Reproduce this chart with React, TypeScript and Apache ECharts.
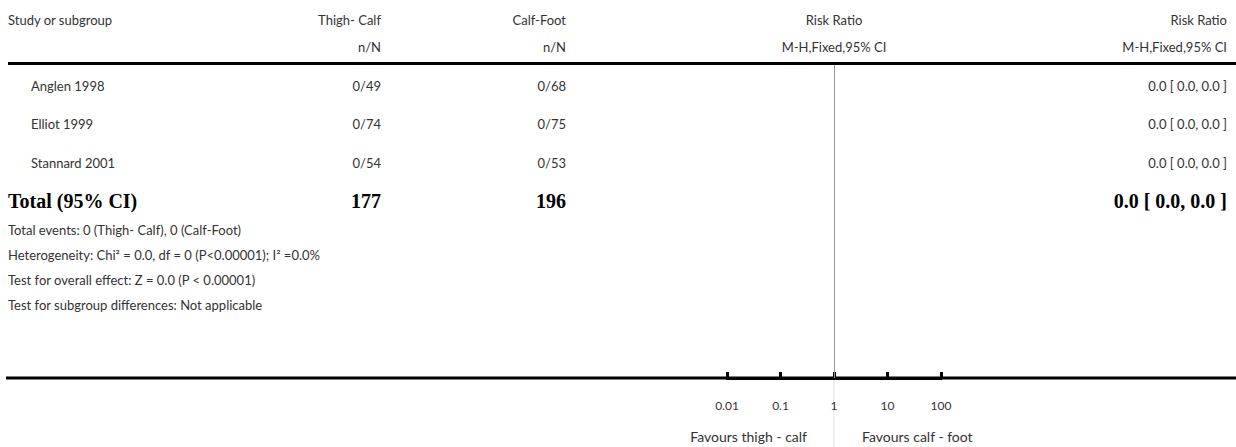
import React, { useEffect, useRef } from "react";
import * as echarts from "echarts";

const studies = ["Anglen 1998", "Elliot 1999", "Stannard 2001"];
const thighCalf = ["0/49", "0/74", "0/54"];
const calfFoot = ["0/68", "0/75", "0/53"];
const riskRatios = ["0.0 [ 0.0, 0.0 ]", "0.0 [ 0.0, 0.0 ]", "0.0 [ 0.0, 0.0 ]"];
const totalThigh = "177";
const totalCalf = "196";
const totalRR = "0.0 [ 0.0, 0.0 ]";
const footnotes = [
  "Total events: 0 (Thigh- Calf), 0 (Calf-Foot)",
  "Heterogeneity: Chi\u00B2 = 0.0, df = 0 (P<0.00001); I\u00B2 =0.0%",
  "Test for overall effect: Z = 0.0 (P < 0.00001)",
  "Test for subgroup differences: Not applicable",
];
const tickValues = [0.01, 0.1, 1, 10, 100];
const tickLabels = ["0.01", "0.1", "1", "10", "100"];
const favourLeft = "Favours thigh - calf";
const favourRight = "Favours calf - foot";

const SANS = "Lato, 'Open Sans', sans-serif";
const SERIF = "'Liberation Serif', 'DejaVu Serif', serif";
const TXT = "#333";

export default function App() {
  const ref = useRef<HTMLDivElement>(null);
  useEffect(() => {
    document.body.style.margin = "0";
    if (!ref.current) return;
    const chart = echarts.init(ref.current, null, { renderer: "svg" });

    const t = (text: string, x: number, y: number, align: string, opts: any = {}) => ({
      type: "text",
      x,
      y,
      silent: true,
      style: {
        text,
        align,
        verticalAlign: "middle",
        fill: opts.fill || TXT,
        font: `${opts.weight || "normal"} ${opts.size || 13}px ${opts.family || SANS}`,
      },
    });

    const rowY = [86, 124, 163];
    const texts: any[] = [
      t("Study or subgroup", 8, 20, "left"),
      t("Thigh- Calf", 381, 20, "right"),
      t("n/N", 381, 47, "right"),
      t("Calf-Foot", 566, 20, "right"),
      t("n/N", 566, 47, "right"),
      t("Risk Ratio", 834, 20, "center"),
      t("M-H,Fixed,95% CI", 834, 47, "center"),
      t("Risk Ratio", 1227, 20, "right"),
      t("M-H,Fixed,95% CI", 1227, 47, "right"),
    ];
    studies.forEach((s, i) => {
      texts.push(t(s, 31, rowY[i], "left"));
      texts.push(t(thighCalf[i], 381, rowY[i], "right"));
      texts.push(t(calfFoot[i], 566, rowY[i], "right"));
      texts.push(t(riskRatios[i], 1227, rowY[i], "right"));
    });
    const bold = { weight: "bold", size: 20, family: SERIF, fill: "#000" };
    texts.push(t("Total (95% CI)", 8, 201, "left", bold));
    texts.push(t(totalThigh, 381, 201, "right", bold));
    texts.push(t(totalCalf, 566, 201, "right", bold));
    texts.push(t(totalRR, 1227, 201, "right", bold));
    const fy = [230, 255, 280, 305];
    footnotes.forEach((f, i) => texts.push(t(f, 8, fy[i], "left")));

    const rules = [
      {
        type: "line",
        silent: true,
        shape: { x1: 8, y1: 63.5, x2: 1236, y2: 63.5 },
        style: { stroke: "#000", lineWidth: 3 },
      },
      {
        type: "line",
        silent: true,
        shape: { x1: 6, y1: 378, x2: 1236, y2: 378 },
        style: { stroke: "#000", lineWidth: 3 },
      },
    ];

    chart.setOption({
      animation: false,
      grid: { left: 727, right: 295, top: 65, bottom: 69 },
      xAxis: {
        type: "log",
        logBase: 10,
        min: tickValues[0],
        max: tickValues[tickValues.length - 1],
        axisLine: { show: true, lineStyle: { color: "#000", width: 3 } },
        axisTick: { show: true, inside: true, length: 6, lineStyle: { color: "#000", width: 3 } },
        minorTick: { show: false },
        splitLine: { show: false },
        axisLabel: {
          margin: 21,
          color: TXT,
          fontFamily: SANS,
          fontSize: 12,
          formatter: (v: number) => {
            const idx = tickValues.findIndex((tv) => Math.abs(Math.log10(tv) - Math.log10(v)) < 1e-6);
            return idx >= 0 ? tickLabels[idx] : "";
          },
        },
      },
      yAxis: { type: "value", min: 0, max: 1, show: false },
      series: [
        {
          type: "scatter",
          data: [],
          silent: true,
          markLine: {
            silent: true,
            symbol: "none",
            label: { show: false },
            lineStyle: { color: "#999", width: 1, type: "solid" },
            data: [{ xAxis: 1 }],
          },
        },
      ],
      graphic: [...texts, ...rules],
    });

    const x1 = chart.convertToPixel({ xAxisIndex: 0 }, 1) as number;
    chart.setOption({
      graphic: [
        ...texts,
        ...rules,
        {
          type: "line",
          silent: true,
          shape: { x1: x1, y1: 380, x2: x1, y2: 447 },
          style: { stroke: "#ddd", lineWidth: 1 },
        },
        t(favourLeft, x1 - 27, 436, "right", { size: 14 }),
        t(favourRight, x1 + 28, 436, "left", { size: 14 }),
      ],
    });

    return () => chart.dispose();
  }, []);
  return <div ref={ref} style={{ width: 1236, height: 447 }} />;
}
